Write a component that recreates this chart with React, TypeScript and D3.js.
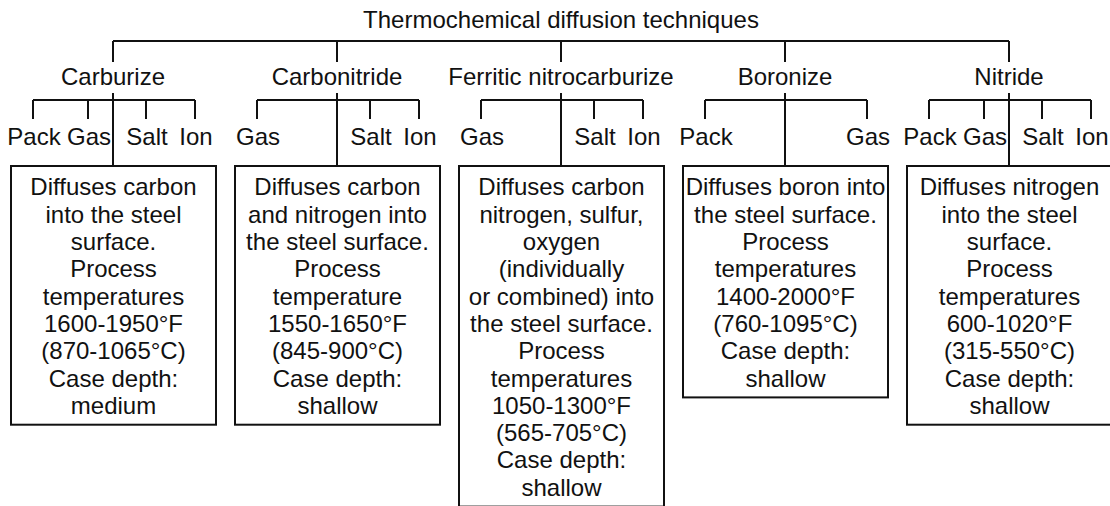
// Thermochemical diffusion techniques – tree diagram
import React from 'react';
import * as d3 from 'd3';

const TITLE = 'Thermochemical diffusion techniques';

const CATEGORIES = ['Carburize', 'Carbonitride', 'Ferritic nitrocarburize', 'Boronize', 'Nitride'];

// leaf labels per category, one entry per slot (null = empty slot)
const CARBURIZE_LEAVES = ['Pack', 'Gas', 'Salt', 'Ion'];
const CARBONITRIDE_LEAVES = ['Gas', null, 'Salt', 'Ion'];
const FERRITIC_LEAVES = ['Gas', null, 'Salt', 'Ion'];
const BORONIZE_LEAVES = ['Pack', null, null, 'Gas'];
const NITRIDE_LEAVES = ['Pack', 'Gas', 'Salt', 'Ion'];

const CARBURIZE_TEXT = ['Diffuses carbon', 'into the steel', 'surface.', 'Process', 'temperatures', '1600-1950°F', '(870-1065°C)', 'Case depth:', 'medium'];
const CARBONITRIDE_TEXT = ['Diffuses carbon', 'and nitrogen into', 'the steel surface.', 'Process', 'temperature', '1550-1650°F', '(845-900°C)', 'Case depth:', 'shallow'];
const FERRITIC_TEXT = ['Diffuses carbon', 'nitrogen, sulfur,', 'oxygen', '(individually', 'or combined) into', 'the steel surface.', 'Process', 'temperatures', '1050-1300°F', '(565-705°C)', 'Case depth:', 'shallow'];
const BORONIZE_TEXT = ['Diffuses boron into', 'the steel surface.', 'Process', 'temperatures', '1400-2000°F', '(760-1095°C)', 'Case depth:', 'shallow'];
const NITRIDE_TEXT = ['Diffuses nitrogen', 'into the steel', 'surface.', 'Process', 'temperatures', '600-1020°F', '(315-550°C)', 'Case depth:', 'shallow'];

const LEAVES = [CARBURIZE_LEAVES, CARBONITRIDE_LEAVES, FERRITIC_LEAVES, BORONIZE_LEAVES, NITRIDE_LEAVES];
const TEXTS = [CARBURIZE_TEXT, CARBONITRIDE_TEXT, FERRITIC_TEXT, BORONIZE_TEXT, NITRIDE_TEXT];

const W = 1110;
const H = 506;
const FONT = '"Liberation Sans", Arial, Helvetica, sans-serif';
const FS = 24;
const INK = '#111';

// layout
const Y = {
  titleBase: 28,
  topLine: 41,
  catDrop: 62,
  catBase: 85,
  subStub: 93,
  subLine: 100,
  leafTick: 119,
  leafBase: 145,
  boxTop: 166,
};
const LINE_H = 27.3;
const BOX_LEFT = -102;
const BOX_W = 205;

export default function App() {
  const x = d3.scalePoint<string>().domain(CATEGORIES).range([113, 1009]);
  const slot = d3.scaleOrdinal<number, number>().domain([0, 1, 2, 3]).range([-80, -25, 33, 82]);
  const lineY = d3.scaleLinear().domain([0, 1]).range([Y.boxTop + 21, Y.boxTop + 21 + LINE_H]);

  const first = x(CATEGORIES[0])!;
  const last = x(CATEGORIES[CATEGORIES.length - 1])!;

  return (
    <svg
      width={W}
      height={H}
      style={{ position: 'absolute', left: 0, top: 0, background: '#fff' }}
      fontFamily={FONT}
      fontSize={FS}
    >
      <text x={(first + last) / 2} y={Y.titleBase} textAnchor="middle" fill={INK}>
        {TITLE}
      </text>
      <line x1={first} x2={last} y1={Y.topLine} y2={Y.topLine} stroke={INK} strokeWidth={2} />

      {CATEGORIES.map((cat, i) => {
        const cx = x(cat)!;
        const leaves = LEAVES[i];
        const used = leaves.map((l, j) => (l ? slot(j) : null)).filter((v) => v !== null) as number[];
        const minOff = Math.min(...used);
        const maxOff = Math.max(...used);
        const lines = TEXTS[i];
        const boxH = 13 + lines.length * LINE_H;
        return (
          <g key={cat}>
            <line x1={cx} x2={cx} y1={Y.topLine} y2={Y.catDrop} stroke={INK} strokeWidth={2} />
            <text x={cx} y={Y.catBase} textAnchor="middle" fill={INK}>
              {cat}
            </text>
            <line x1={cx + minOff} x2={cx + maxOff} y1={Y.subLine} y2={Y.subLine} stroke={INK} strokeWidth={2} />
            <line x1={cx} x2={cx} y1={Y.subStub} y2={Y.boxTop} stroke={INK} strokeWidth={2} />
            {leaves.map((leaf, j) =>
              leaf ? (
                <g key={j}>
                  <line
                    x1={cx + slot(j)}
                    x2={cx + slot(j)}
                    y1={Y.subLine}
                    y2={Y.leafTick}
                    stroke={INK}
                    strokeWidth={2}
                  />
                  <text x={cx + slot(j) + 1} y={Y.leafBase} textAnchor="middle" fill={INK}>
                    {leaf}
                  </text>
                </g>
              ) : null
            )}
            <rect
              x={cx + BOX_LEFT}
              y={Y.boxTop}
              width={BOX_W}
              height={boxH}
              fill="none"
              stroke={INK}
              strokeWidth={2}
            />
            {lines.map((t, k) => (
              <text key={k} x={cx + BOX_LEFT + BOX_W / 2} y={lineY(k)} dy="0.35em" textAnchor="middle" fill={INK}>
                {t}
              </text>
            ))}
          </g>
        );
      })}
    </svg>
  );
}
